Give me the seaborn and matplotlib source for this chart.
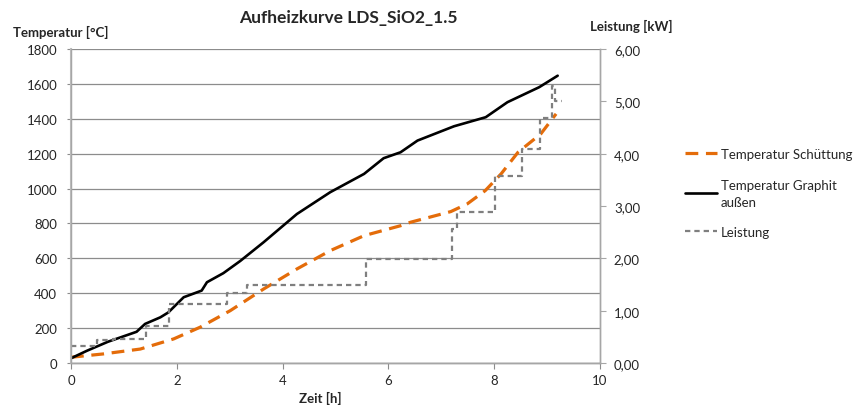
import matplotlib
matplotlib.use("Agg")
import matplotlib.pyplot as plt
import seaborn as sns
from matplotlib.ticker import FuncFormatter, MultipleLocator

## Daten

# Temperatur Schüttung
zeit_schuettung = [0, 0.61, 1.31, 1.94, 2.44, 3.01, 3.64, 4.27, 4.90, 5.54, 6.23, 6.42,
                   7.18, 7.49, 7.83, 8.13, 8.45, 8.88, 9.17]
temp_schuettung = [33, 52, 80, 138, 205, 300, 424, 539, 644, 730, 787, 807,
                   868, 912, 988, 1084, 1208, 1313, 1428]

# Temperatur Graphit außen
zeit_graphit = [0, 0.3, 0.7, 1.24, 1.40, 1.69, 1.84, 2.13, 2.47, 2.57, 2.88, 3.2, 3.64,
                4.27, 4.90, 5.54, 5.91, 6.23, 6.55, 7.24, 7.84, 8.25, 8.85, 9.2]
temp_graphit = [27, 70, 122, 179, 224, 262, 290, 377, 415, 463, 515, 585, 692,
                854, 979, 1084, 1174, 1208, 1275, 1357, 1409, 1495, 1581, 1647]

# Leistung (Stufen)
zeit_leistung = [0, 0.49, 0.80, 1.42, 1.86, 2.95, 3.33, 5.57, 7.20, 7.29, 8.02, 8.53,
                 8.87, 9.09, 9.15, 9.29]
leistung_kw = [0.32, 0.43, 0.46, 0.71, 1.13, 1.33, 1.50, 1.99, 2.57, 2.88, 3.58, 4.09,
               4.69, 5.30, 5.01, 5.01]

x_ticks = [0, 2, 4, 6, 8, 10]

## Plot

sns.set_style("white")
plt.rcParams['font.family'] = ['Lato', 'DejaVu Sans']

fig = plt.figure(figsize=(8.68, 4.14), dpi=100)
ax = fig.add_axes([71/868, 50/414, 529/868, 314/414])
ax2 = ax.twinx()

orange = '#E46C0A'
grau = '#7F7F7F'

sns.lineplot(x=zeit_schuettung, y=temp_schuettung, ax=ax, color=orange, linewidth=2.3,
             linestyle=(0, (4, 2.4)), label='Temperatur Schüttung', legend=False)
sns.lineplot(x=zeit_graphit, y=temp_graphit, ax=ax, color='black', linewidth=1.9,
             label='Temperatur Graphit\naußen', legend=False)
sns.lineplot(x=zeit_leistung, y=leistung_kw, ax=ax2, color=grau, linewidth=1.6,
             drawstyle='steps-post', linestyle=(0, (2.4, 1.8)), label='Leistung', legend=False)

ax.set_xlim(0, 10)
ax.set_ylim(0, 1800)
ax2.set_ylim(0, 6)
ax.set_xticks(x_ticks)
ax.yaxis.set_major_locator(MultipleLocator(200))
ax2.yaxis.set_major_locator(MultipleLocator(1))
ax2.yaxis.set_major_formatter(FuncFormatter(lambda v, _: f'{v:.2f}'.replace('.', ',')))

ax.grid(axis='y', color='#8C8C8C', linewidth=0.9)
ax.grid(axis='x', visible=False)
ax2.grid(False)
ax.set_xlabel('')
ax.set_ylabel('')
ax2.set_ylabel('')

for a in (ax, ax2):
    a.spines['top'].set_visible(False)
    for s in ('left', 'right', 'bottom'):
        a.spines[s].set_color('#A6A6A6')
        a.spines[s].set_linewidth(1.0)
ax.spines['left'].set_color('#BFBFBF')
ax.spines['left'].set_linewidth(1.5)
ax.spines['bottom'].set_color('#8C8C8C')

ax.tick_params(axis='x', direction='out', length=4, width=0.8, color='#8C8C8C',
               labelsize=9.5, pad=4, bottom=True)
ax.tick_params(axis='y', direction='out', length=3, width=0.8, color='#8C8C8C',
               labelsize=9.5, pad=7, left=True)
ax2.tick_params(axis='y', direction='out', length=4, width=0.8, color='#A6A6A6',
                labelsize=9.5, pad=6, right=True)

# Texte
fig.text(348/868, 1 - 18/414, 'Aufheizkurve LDS_SiO2_1.5', ha='center', va='center',
         fontsize=12.5, fontweight='bold')
fig.text(13/868, 1 - 32/414, 'Temperatur [°C]', ha='left', va='center',
         fontsize=9.5, fontweight='bold')
fig.text(590/868, 1 - 26/414, 'Leistung [kW]', ha='left', va='center',
         fontsize=9.5, fontweight='bold')
fig.text(320/868, 1 - 398/414, 'Zeit [h]', ha='center', va='center',
         fontsize=9.5, fontweight='bold')

h1, l1 = ax.get_legend_handles_labels()
h2, l2 = ax2.get_legend_handles_labels()
leg = fig.legend(h1 + h2, l1 + l2, loc='center left', bbox_to_anchor=(685/868, 1 - 194/414),
                 frameon=False, fontsize=9.5, handlelength=2.4, handletextpad=0.3,
                 labelspacing=1.4, borderpad=0, borderaxespad=0)
for t in leg.get_texts():
    t.set_linespacing(1.5)

plt.savefig('out.png', dpi=100)
